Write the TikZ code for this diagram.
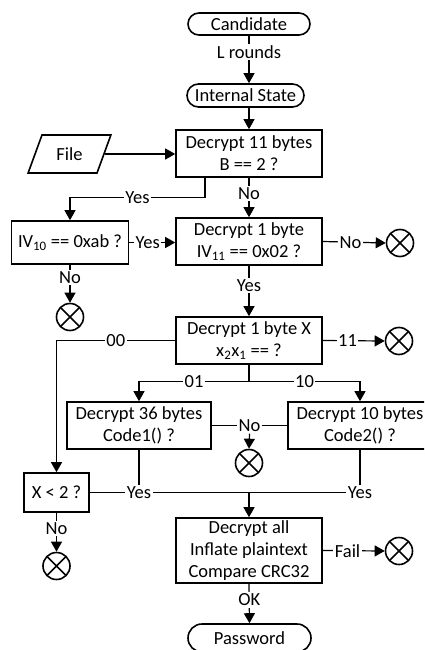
\documentclass[tikz,border=0pt]{standalone}
\usepackage{fontspec}
\setmainfont{Carlito}
\usetikzlibrary{shapes.geometric,shapes.misc,arrows.meta}
\begin{document}
\begin{tikzpicture}[x=1pt,y=-1pt,
  every node/.style={font=\fontsize{18.5}{22}\selectfont},
  box/.style={draw,line width=1.6pt,align=center,inner sep=0pt},
  term/.style={draw,rounded rectangle,line width=1.6pt,inner sep=0pt},
  io/.style={draw,trapezium,trapezium left angle=63,trapezium right angle=117,
    trapezium stretches=true,line width=1.6pt,inner sep=0pt},
  stop/.style={draw,circle,line width=1.6pt,minimum size=27pt,inner sep=0pt,
    path picture={\draw[line width=1.6pt]
      (path picture bounding box.south west) -- (path picture bounding box.north east)
      (path picture bounding box.north west) -- (path picture bounding box.south east);}},
  line/.style={line width=1.2pt},
  arr/.style={line,-{Triangle[width=11pt,length=10pt]}},
  lbl/.style={fill=white,inner sep=1.5pt},
]
\useasboundingbox (0,0) rectangle (424,650);
\clip (0,0) rectangle (424,650);

% blocks
\node[term,minimum width=122pt,minimum height=22pt] (cand) at (249,24) {Candidate};
\node[term,minimum width=117pt,minimum height=23pt] (ist) at (245.5,95.5) {Internal State};
\node[box,minimum width=146pt,minimum height=47pt] (d11) at (249,153.5) {Decrypt 11 bytes\\B == 2 ?};
\node[io,minimum width=83pt,minimum height=38pt] (file) at (69.5,154) {File};
\node[box,minimum width=117pt,minimum height=43pt] (iv10) at (70,242.5) {IV\textsubscript{10} == 0xab ?};
\node[box,minimum width=146pt,minimum height=47pt] (d1b) at (249,241.5) {Decrypt 1 byte\\IV\textsubscript{11} == 0x02 ?};
\node[stop] (c1) at (400,243) {};
\node[stop] (c2) at (70,317) {};
\node[box,minimum width=146pt,minimum height=47pt] (d1x) at (249,340.5) {Decrypt 1 byte X\\x\textsubscript{2}x\textsubscript{1} == ?};
\node[stop] (c3) at (399,341) {};
\node[box,minimum width=144pt,minimum height=47pt] (d36) at (139,425.5) {Decrypt 36 bytes\\Code1() ?};
\node[box,minimum width=144pt,minimum height=47pt] (d10) at (360,425.5) {Decrypt 10 bytes\\Code2() ?};
\node[stop] (c4) at (249,463) {};
\node[box,minimum width=65pt,minimum height=39pt] (x2) at (56.5,492.5) {X < 2 ?};
\node[box,minimum width=146pt,minimum height=65pt] (dall) at (249,550.5) {Decrypt all\\Inflate plaintext\\Compare CRC32};
\node[stop] (c5) at (56.5,566) {};
\node[stop] (c6) at (399,551) {};
\node[term,minimum width=123pt,minimum height=28pt] (pw) at (249.5,638) {Password};

% connectors
\draw[arr] (cand.south) -- node[lbl,pos=0.35]{L rounds} (cand.south |- ist.north);
\draw[arr] (ist.south -| d11.north) -- (d11.north);
\draw[arr] (file.east) -- (file.east -| d11.west);
\draw[arr] ([xshift=-44pt]d11.south) -- ++(0,20) -| node[lbl,pos=0.25]{Yes} (iv10.north);
\draw[arr] (d11.south) -- node[lbl,pos=0.4]{No} (d1b.north);
\draw[arr] (iv10.east) -- node[lbl,pos=0.4]{Yes} (iv10.east -| d1b.west);
\draw[arr] (d1b.east) -- node[lbl,pos=0.44]{No} (c1.west);
\draw[arr] (iv10.south) -- node[lbl,pos=0.33]{No} (c2.north);
\draw[arr] (d1b.south) -- node[lbl,pos=0.4]{Yes} (d1x.north);
\draw[arr] (d1x.west) -| node[lbl,pos=0.25]{00} (x2.north);
\draw[arr] (d1x.east) -- node[lbl,pos=0.4]{11} (c3.west);
\draw[arr] (d1x.south) -- ++(0,17) -| node[lbl,pos=0.25]{01} (d36.north);
\draw[arr] (d1x.south) ++(0,17) -| node[lbl,pos=0.25]{10} (d10.north);
\draw[line] (d36.east) -- node[lbl] (nolbl) {No} (d10.west);
\draw[arr] (nolbl.south) -- (c4.north);

\coordinate (join) at (dall.north |- x2.east);
\draw[line] (x2.east) -- (join -| d10.south);
\draw[line] (d36.south) |- node[lbl,pos=0.5]{Yes} (join);
\draw[line] (d10.south) |- node[lbl,pos=0.5]{Yes} (join);
\draw[arr] (join) -- (dall.north);

\draw[arr] (dall.east) -- node[lbl,pos=0.4]{Fail} (c6.west);
\draw[arr] (x2.south) -- node[lbl,pos=0.4]{No} (c5.north);
\draw[arr] (dall.south) -- node[lbl,pos=0.41]{OK} (pw.north);
\end{tikzpicture}
\end{document}
